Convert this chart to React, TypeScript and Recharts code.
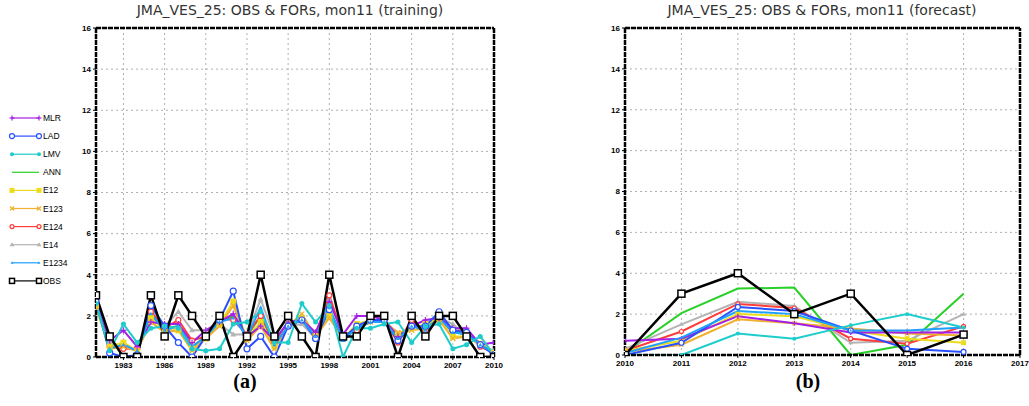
import React from 'react';
import { LineChart, Line, XAxis, YAxis, CartesianGrid, ReferenceLine } from 'recharts';

// training period
const trainYears = [1981, 1982, 1983, 1984, 1985, 1986, 1987, 1988, 1989, 1990, 1991, 1992, 1993, 1994, 1995, 1996, 1997, 1998, 1999, 2000, 2001, 2002, 2003, 2004, 2005, 2006, 2007, 2008, 2009, 2010];
const trainMLR = [2.8, 0.8, 1.3, 0.5, 1.7, 1.6, 1.6, 0.7, 1.3, 1.7, 2.1, 1.0, 1.5, 0.8, 1.7, 1.8, 1.2, 2.7, 1.1, 2.0, 2.0, 1.8, 1.0, 1.5, 1.8, 1.9, 1.4, 1.4, 0.6, 0.7];
const trainLAD = [2.7, 0.2, 0.0, 0.1, 2.5, 1.5, 0.7, 0.0, 1.0, 1.8, 3.2, 0.4, 1.0, 0.0, 1.5, 1.8, 0.9, 2.3, 0.9, 1.5, 1.8, 1.8, 0.8, 1.5, 1.5, 2.2, 1.3, 1.2, 0.6, 0.1];
const trainLMV = [2.6, 0.3, 1.6, 0.7, 1.4, 1.5, 1.4, 0.4, 0.3, 0.4, 1.6, 1.7, 2.2, 0.7, 0.7, 2.6, 1.7, 2.5, 0.0, 1.4, 1.4, 1.6, 1.7, 0.7, 1.5, 1.6, 0.4, 0.6, 1.0, 0.1];
const trainANN = [2.6, 0.4, 0.6, 0.3, 2.0, 1.4, 1.5, 0.5, 1.0, 1.7, 2.0, 1.0, 2.0, 0.6, 1.5, 1.8, 1.0, 2.3, 0.9, 1.4, 1.7, 1.7, 1.0, 1.5, 1.4, 1.9, 1.2, 1.1, 0.6, 0.2];
const trainE12 = [2.5, 0.5, 0.7, 0.3, 1.9, 1.3, 1.3, 0.4, 0.9, 1.6, 2.7, 0.9, 1.7, 0.5, 1.6, 1.9, 1.0, 2.0, 0.9, 1.6, 1.8, 1.8, 1.1, 1.4, 1.6, 1.9, 1.0, 1.0, 0.6, 0.2];
const trainE123 = [2.4, 0.4, 0.5, 0.3, 1.7, 1.2, 1.3, 0.3, 0.9, 1.5, 2.5, 0.8, 1.5, 0.4, 1.5, 2.1, 1.0, 1.9, 0.9, 1.5, 1.7, 1.7, 1.2, 1.3, 1.4, 1.8, 0.9, 1.0, 0.7, 0.2];
const trainE124 = [2.7, 0.5, 0.4, 0.4, 2.2, 1.4, 1.8, 0.8, 1.0, 1.9, 1.8, 1.1, 2.0, 0.7, 1.6, 1.8, 1.1, 3.0, 1.0, 1.3, 1.8, 1.8, 0.7, 1.8, 1.2, 2.0, 1.3, 1.2, 0.5, 0.2];
const trainE14 = [2.8, 0.7, 0.5, 0.3, 2.3, 1.5, 2.2, 1.3, 1.3, 1.6, 1.1, 1.1, 2.8, 1.0, 1.5, 1.6, 0.9, 2.8, 1.1, 1.3, 1.8, 1.8, 0.8, 1.6, 1.2, 1.9, 1.6, 1.0, 0.6, 0.3];
const trainE1234 = [2.6, 0.4, 0.6, 0.3, 2.1, 1.3, 1.5, 0.5, 1.0, 1.7, 1.9, 1.0, 2.4, 0.6, 1.5, 1.8, 1.0, 2.4, 0.8, 1.4, 1.7, 1.7, 0.9, 1.5, 1.3, 1.9, 1.2, 1.1, 0.6, 0.2];
const trainOBS = [3, 1, 0, 0, 3, 1, 3, 2, 1, 2, 0, 1, 4, 1, 2, 1, 0, 4, 1, 1, 2, 2, 0, 2, 1, 2, 2, 1, 0, 0];

// forecast period
const fcstYears = [2010, 2011, 2012, 2013, 2014, 2015, 2016];
const fcstMLR = [0.7, 0.8, 1.9, 1.55, 1.1, 1.1, 1.1];
const fcstLAD = [0.0, 0.6, 2.35, 2.15, 1.2, 0.3, 0.15];
const fcstLMV = [0.0, 0.0, 1.05, 0.8, 1.45, 2.0, 1.35];
const fcstANN = [0.1, 2.05, 3.25, 3.3, 0.0, 0.5, 3.0];
const fcstE12 = [0.2, 0.7, 2.0, 1.9, 1.2, 0.8, 0.6];
const fcstE123 = [0.15, 0.5, 1.75, 1.55, 1.3, 1.05, 0.95];
const fcstE124 = [0.2, 1.15, 2.5, 2.3, 0.8, 0.55, 1.4];
const fcstE14 = [0.3, 1.5, 2.6, 2.4, 0.6, 0.7, 2.0];
const fcstE1234 = [0.1, 0.85, 2.15, 2.0, 1.2, 1.2, 1.35];
const fcstOBS = [0, 3, 4, 2, 3, 0, 1];

const yTicks = [0, 2, 4, 6, 8, 10, 12, 14, 16];
const trainTicks = [1983, 1986, 1989, 1992, 1995, 1998, 2001, 2004, 2007, 2010];
const fcstTicks = [2010, 2011, 2012, 2013, 2014, 2015, 2016, 2017];

type Shape = 'plus' | 'circleOpen' | 'circleFilled' | 'none' | 'squareFilled' | 'cross' | 'diamondOpen' | 'triangle' | 'triangleSmall' | 'squareOpen';

const series: { key: string; name: string; color: string; shape: Shape }[] = [
  { key: 'MLR', name: 'MLR', color: '#a41ee6', shape: 'plus' },
  { key: 'LAD', name: 'LAD', color: '#2850ff', shape: 'circleOpen' },
  { key: 'LMV', name: 'LMV', color: '#1ecccc', shape: 'circleFilled' },
  { key: 'ANN', name: 'ANN', color: '#28d028', shape: 'none' },
  { key: 'E12', name: 'E12', color: '#ecdc1e', shape: 'squareFilled' },
  { key: 'E123', name: 'E123', color: '#f0b030', shape: 'cross' },
  { key: 'E124', name: 'E124', color: '#ff3c3c', shape: 'diamondOpen' },
  { key: 'E14', name: 'E14', color: '#b4b4b4', shape: 'triangle' },
  { key: 'E1234', name: 'E1234', color: '#1ea0ff', shape: 'triangleSmall' },
  { key: 'OBS', name: 'OBS', color: '#000000', shape: 'squareOpen' },
];

// draw order, OBS last so it sits on top
const drawOrder = ['ANN', 'E14', 'E124', 'E12', 'E123', 'MLR', 'LAD', 'E1234', 'LMV', 'OBS'];

const trainData = trainYears.map((year, i) => ({
  year,
  MLR: trainMLR[i], LAD: trainLAD[i], LMV: trainLMV[i], ANN: trainANN[i], E12: trainE12[i],
  E123: trainE123[i], E124: trainE124[i], E14: trainE14[i], E1234: trainE1234[i], OBS: trainOBS[i],
}));

const fcstData = fcstYears.map((year, i) => ({
  year,
  MLR: fcstMLR[i], LAD: fcstLAD[i], LMV: fcstLMV[i], ANN: fcstANN[i], E12: fcstE12[i],
  E123: fcstE123[i], E124: fcstE124[i], E14: fcstE14[i], E1234: fcstE1234[i], OBS: fcstOBS[i],
}));

function Marker({ shape, color, cx, cy, s = 3 }: { shape: Shape; color: string; cx: number; cy: number; s?: number }) {
  switch (shape) {
    case 'plus':
      return <g stroke={color} strokeWidth={1.2}><line x1={cx - s} y1={cy} x2={cx + s} y2={cy} /><line x1={cx} y1={cy - s} x2={cx} y2={cy + s} /></g>;
    case 'circleOpen':
      return <circle cx={cx} cy={cy} r={s} fill="#fff" stroke={color} strokeWidth={1.2} />;
    case 'circleFilled':
      return <circle cx={cx} cy={cy} r={s - 0.5} fill={color} />;
    case 'squareFilled':
      return <rect x={cx - s} y={cy - s} width={s * 2} height={s * 2} fill={color} />;
    case 'cross':
      return <g stroke={color} strokeWidth={1.2}><line x1={cx - s + 0.5} y1={cy - s + 0.5} x2={cx + s - 0.5} y2={cy + s - 0.5} /><line x1={cx - s + 0.5} y1={cy + s - 0.5} x2={cx + s - 0.5} y2={cy - s + 0.5} /></g>;
    case 'diamondOpen':
      return <circle cx={cx} cy={cy} r={s - 0.5} fill="#fff" stroke={color} strokeWidth={1.2} />;
    case 'triangle':
      return <polygon points={`${cx},${cy - s} ${cx - s},${cy + s - 1} ${cx + s},${cy + s - 1}`} fill={color} />;
    case 'triangleSmall':
      return <polygon points={`${cx},${cy - s + 1} ${cx - s + 1},${cy + s - 1.5} ${cx + s - 1},${cy + s - 1.5}`} fill={color} />;
    case 'squareOpen':
      return <rect x={cx - s} y={cy - s} width={s * 2} height={s * 2} fill="#fff" stroke={color} strokeWidth={1.5} />;
    default:
      return null;
  }
}

const makeDot = (shape: Shape, color: string, s: number) => (props: any) => {
  if (shape === 'none' || props.cx == null) return <g key={`d-${props.index}`} />;
  return (
    <g key={`d-${props.index}`}>
      <Marker shape={shape} color={color} cx={props.cx} cy={props.cy} s={s} />
    </g>
  );
};

const tickStyle = { fontSize: 8, fontWeight: 700, fill: '#000', fontFamily: 'Liberation Sans, Arial, sans-serif' };
const frame = { stroke: '#000', strokeWidth: 2.5, strokeDasharray: '5 1' };

function Panel({ data, ticks, domain, markerSize, margin, width }: {
  data: any[]; ticks: number[]; domain: [number, number]; markerSize: number;
  margin: { top: number; right: number; bottom: number; left: number }; width: number;
}) {
  return (
    <LineChart width={width} height={380} data={data} margin={margin}>
      <CartesianGrid stroke="#b0b0b0" strokeDasharray="2 3" />
      <XAxis
        type="number"
        dataKey="year"
        domain={domain}
        ticks={ticks}
        allowDataOverflow
        tick={tickStyle}
        tickSize={3}
        tickLine={{ stroke: '#000' }}
        axisLine={frame}
        height={15}
        interval={0}
      />
      <YAxis
        domain={[0, 16]}
        ticks={yTicks}
        allowDataOverflow
        tick={tickStyle}
        tickSize={3}
        tickLine={{ stroke: '#000' }}
        axisLine={frame}
        width={20}
        interval={0}
      />
      <ReferenceLine y={16} {...frame} />
      <ReferenceLine x={domain[1]} {...frame} />
      {drawOrder.map((k) => {
        const s = series.find((x) => x.key === k)!;
        const isObs = k === 'OBS';
        return (
          <Line
            key={k}
            type="linear"
            dataKey={k}
            stroke={s.color}
            strokeWidth={isObs ? 2.5 : 2}
            dot={makeDot(s.shape, s.color, isObs ? 3.5 : markerSize)}
            isAnimationActive={false}
          />
        );
      })}
    </LineChart>
  );
}

function Legend() {
  return (
    <svg width={80} height={200} style={{ position: 'absolute', left: 0, top: 108 }}>
      {series.map((s, i) => {
        const y = 10 + i * 18.1;
        return (
          <g key={s.key}>
            <line x1={12} y1={y} x2={39} y2={y} stroke={s.color} strokeWidth={1.2} />
            {s.shape !== 'none' && <Marker shape={s.shape} color={s.color} cx={12} cy={y} s={2.5} />}
            {s.shape !== 'none' && <Marker shape={s.shape} color={s.color} cx={39} cy={y} s={2.5} />}
            <text x={43} y={y + 3} fontSize={8.5} fontFamily="Liberation Sans, Arial, sans-serif" fill="#000">{s.name}</text>
          </g>
        );
      })}
    </svg>
  );
}

const titleStyle: React.CSSProperties = {
  position: 'absolute', top: 2, fontFamily: 'DejaVu Sans, sans-serif', fontSize: 14, color: '#333',
  textAlign: 'center', whiteSpace: 'nowrap',
};
const labelStyle: React.CSSProperties = {
  position: 'absolute', top: 370, fontFamily: 'Liberation Serif, Times New Roman, serif', fontSize: 20,
  fontWeight: 700, textAlign: 'center', width: 60,
};

export default function App() {
  return (
    <div style={{ position: 'absolute', left: 0, top: 0, width: 1029, height: 406, background: '#fff', overflow: 'hidden' }}>
      <div style={{ ...titleStyle, left: 90, width: 400 }}>JMA_VES_25: OBS &amp; FORs, mon11 (training)</div>
      <div style={{ ...titleStyle, left: 622, width: 400 }}>JMA_VES_25: OBS &amp; FORs, mon11 (forecast)</div>
      <div style={{ position: 'absolute', left: 0, top: 0 }}>
        <Panel data={trainData} ticks={trainTicks} domain={[1981, 2010]} markerSize={3}
          width={520} margin={{ top: 28, right: 26, bottom: 8, left: 76 }} />
      </div>
      <div style={{ position: 'absolute', left: 520, top: 0 }}>
        <Panel data={fcstData} ticks={fcstTicks} domain={[2010, 2017]} markerSize={2.5}
          width={509} margin={{ top: 28, right: 9, bottom: 10, left: 85 }} />
      </div>
      <Legend />
      <div style={{ ...labelStyle, left: 215 }}>(a)</div>
      <div style={{ ...labelStyle, left: 778 }}>(b)</div>
    </div>
  );
}
